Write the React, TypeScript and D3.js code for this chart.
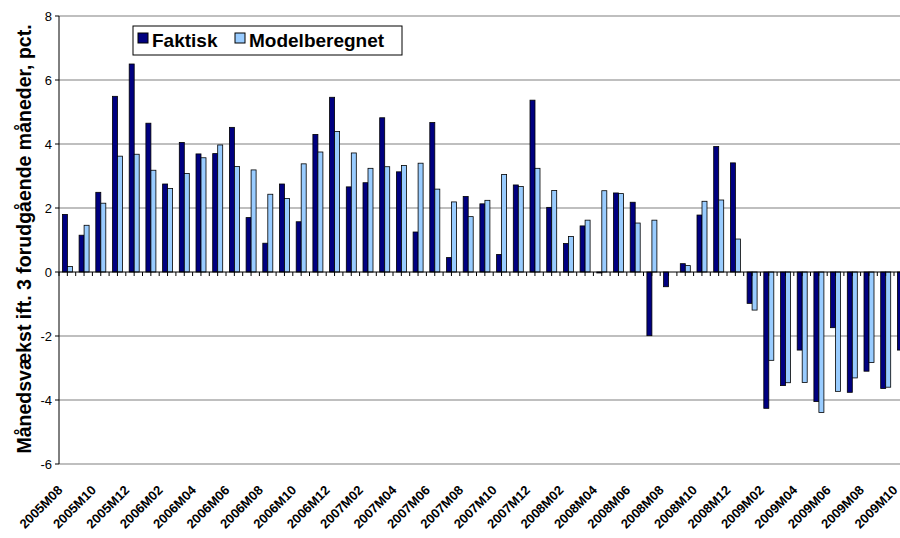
import * as d3 from 'd3';

const categories = [
  '2005M08', '2005M09', '2005M10', '2005M11', '2005M12',
  '2006M01', '2006M02', '2006M03', '2006M04', '2006M05', '2006M06',
  '2006M07', '2006M08', '2006M09', '2006M10', '2006M11', '2006M12',
  '2007M01', '2007M02', '2007M03', '2007M04', '2007M05', '2007M06',
  '2007M07', '2007M08', '2007M09', '2007M10', '2007M11', '2007M12',
  '2008M01', '2008M02', '2008M03', '2008M04', '2008M05', '2008M06',
  '2008M07', '2008M08', '2008M09', '2008M10', '2008M11', '2008M12',
  '2009M01', '2009M02', '2009M03', '2009M04', '2009M05', '2009M06',
  '2009M07', '2009M08', '2009M09', '2009M10',
];

const faktisk = [
  1.80, 1.15, 2.49, 5.49, 6.50, 4.65, 2.75, 4.05, 3.69, 3.70,
  4.52, 1.70, 0.90, 2.75, 1.57, 4.30, 5.46, 2.66, 2.79, 4.82,
  3.13, 1.25, 4.67, 0.45, 2.36, 2.13, 0.55, 2.72, 5.37, 2.02,
  0.89, 1.44, -0.03, 2.47, 2.18, -1.99, -0.46, 0.26, 1.78, 3.92,
  3.41, -0.98, -4.26, -3.55, -2.44, -4.05, -1.74, -3.76, -3.10, -3.64,
  -2.44,
];

const modelberegnet = [
  0.17, 1.46, 2.15, 3.62, 3.68, 3.18, 2.61, 3.08, 3.57, 3.97,
  3.30, 3.19, 2.43, 2.30, 3.38, 3.75, 4.39, 3.72, 3.24, 3.29,
  3.33, 3.40, 2.59, 2.19, 1.73, 2.24, 3.05, 2.67, 3.24, 2.55,
  1.11, 1.62, 2.54, 2.45, 1.53, 1.62, 0, 0.20, 2.21, 2.25,
  1.03, -1.19, -2.76, -3.46, -3.45, -4.39, -3.73, -3.31, -2.83, -3.60,
  -2.90,
];

const seriesNames = ['Faktisk', 'Modelberegnet'];
const seriesColors = ['#000080', '#99ccff'];
const yTicks = [-6, -4, -2, 0, 2, 4, 6, 8];

const W = 900;
const H = 538;
const left = 59;
const font = '"Liberation Sans", Arial, sans-serif';

export default function App() {
  const x0 = d3.scaleBand<string>().domain(categories).range([left, left + categories.length * 16.7]);
  const x1 = d3.scaleBand<string>().domain(seriesNames).range([3.4, 13.4]);
  const y = d3.scaleLinear().domain([-6, 8]).range([464, 16]);
  const step = x0.step();
  const values = [faktisk, modelberegnet];

  return (
    <svg width={W} height={H} style={{ position: 'fixed', left: 0, top: 0, background: '#fff' }} fontFamily={font}>
      {/* gridlines */}
      {yTicks.filter(t => t !== 0).map(t => (
        <line key={t} x1={left} x2={W} y1={y(t)} y2={y(t)} stroke="#808080" strokeWidth={1.2} />
      ))}
      {/* y axis */}
      <line x1={left} x2={left} y1={y(8)} y2={y(-6)} stroke="#000" />
      {yTicks.map(t => (
        <g key={t}>
          <line x1={left - 4} x2={left} y1={y(t)} y2={y(t)} stroke="#000" />
          <text x={52} y={y(t)} dy="0.35em" textAnchor="end" fontSize={13}>{t}</text>
        </g>
      ))}
      {/* bars */}
      {values.map((vals, si) => (
        <g key={si} fill={seriesColors[si]} stroke="#000" strokeWidth={0.8}>
          {categories.map((c, i) => {
            const v = vals[i];
            const bx = (x0(c) ?? 0) + (x1(seriesNames[si]) ?? 0);
            return (
              <rect key={c} x={bx} width={x1.bandwidth()}
                y={Math.min(y(v), y(0))} height={Math.abs(y(v) - y(0))} />
            );
          })}
        </g>
      ))}
      {/* category axis */}
      <line x1={left} x2={W} y1={y(0)} y2={y(0)} stroke="#000" />
      {categories.map(c => (
        <g key={c}>
          <line x1={x0(c)} x2={x0(c)} y1={y(0)} y2={y(0) + 4} stroke="#000" />
          <line x1={(x0(c) ?? 0) + step / 2} x2={(x0(c) ?? 0) + step / 2} y1={y(0)} y2={y(0) + 4} stroke="#000" />
        </g>
      ))}
      {categories.map((c, i) => i % 2 === 0 && (
        <text key={c} transform={`translate(${(x0(c) ?? 0) + step / 2 - 4},491) rotate(-45)`}
          textAnchor="end" fontSize={13} fontWeight="bold">{c}</text>
      ))}
      {/* y title */}
      <text transform="translate(31,239) rotate(-90)" textAnchor="middle" fontSize={19.5} fontWeight="bold">
        Månedsvækst ift. 3 forudgående måneder, pct.
      </text>
      {/* legend */}
      <rect x={133} y={26} width={269} height={29} fill="#fff" stroke="#000" />
      <rect x={138} y={33} width={10} height={10} fill={seriesColors[0]} stroke="#000" />
      <text x={152} y={47} fontSize={19} fontWeight="bold">{seriesNames[0]}</text>
      <rect x={235} y={33} width={10} height={10} fill={seriesColors[1]} stroke="#000" />
      <text x={249} y={47} fontSize={19} fontWeight="bold">{seriesNames[1]}</text>
    </svg>
  );
}
